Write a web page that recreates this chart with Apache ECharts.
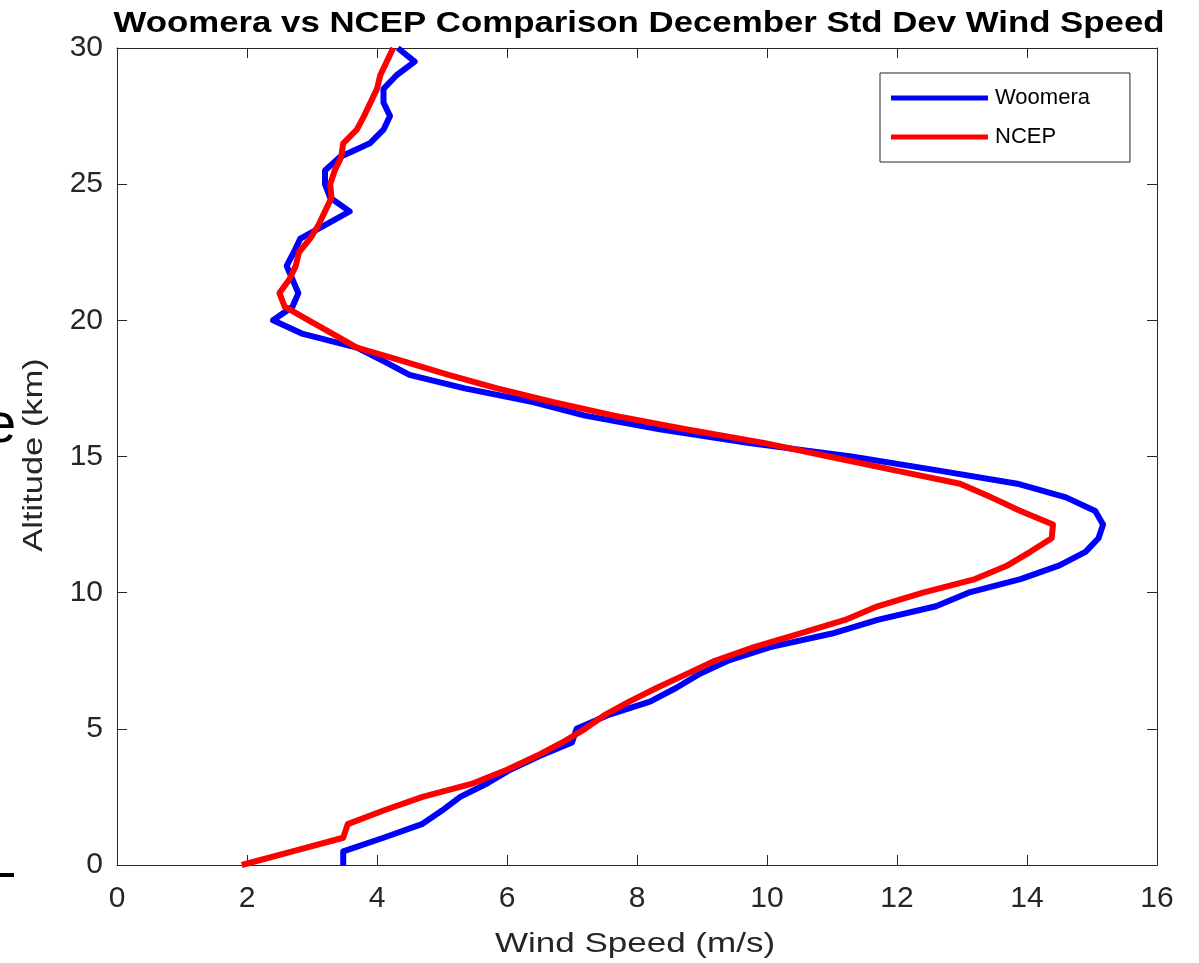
<!DOCTYPE html>
<html>
<head>
<meta charset="utf-8">
<script src="https://cdn.jsdelivr.net/npm/echarts@6/dist/echarts.min.js"></script>
<style>
  html, body { margin: 0; padding: 0; background: #fff; }
  #chart { width: 1199px; height: 963px; }
</style>
</head>
<body>
<div id="chart"></div>
<script>
// altitude levels (km), 0.5 km step
const altitudes = [
  0, 0.5, 1, 1.5, 2, 2.5, 3, 3.5, 4, 4.5,
  5, 5.5, 6, 6.5, 7, 7.5, 8, 8.5, 9, 9.5,
  10, 10.5, 11, 11.5, 12, 12.5, 13, 13.5, 14, 14.5,
  15, 15.5, 16, 16.5, 17, 17.5, 18, 18.5, 19, 19.5,
  20, 20.5, 21, 21.5, 22, 22.5, 23, 23.5, 24, 24.5,
  25, 25.5, 26, 26.5, 27, 27.5, 28, 28.5, 29, 29.5, 30
];

// std dev wind speed (m/s)
const woomera = [
  3.48, 3.48, 4.1, 4.69, 5.0, 5.28, 5.7, 6.05, 6.5, 7.0,
  7.07, 7.55, 8.2, 8.6, 8.95, 9.4, 10.05, 11.0, 11.7, 12.6,
  13.1, 13.9, 14.5, 14.9, 15.1, 15.17, 15.05, 14.6, 13.85, 12.6,
  11.3, 9.7, 8.35, 7.2, 6.4, 5.35, 4.5, 4.1, 3.69, 2.86,
  2.4, 2.7, 2.79, 2.7, 2.61, 2.72, 2.82, 3.2, 3.58, 3.28,
  3.2, 3.2, 3.43, 3.89, 4.1, 4.2, 4.1, 4.1, 4.3, 4.58, 4.32
];

const ncep = [
  1.92, 2.7, 3.48, 3.55, 4.1, 4.7, 5.48, 6.0, 6.45, 6.85,
  7.2, 7.5, 7.88, 8.3, 8.75, 9.2, 9.8, 10.5, 11.2, 11.7,
  12.4, 13.2, 13.7, 14.05, 14.38, 14.4, 13.9, 13.45, 12.97, 11.95,
  10.95, 9.95, 8.75, 7.65, 6.7, 5.85, 5.1, 4.4, 3.69, 3.32,
  2.95, 2.58, 2.5, 2.65, 2.75, 2.8, 2.97, 3.1, 3.2, 3.3,
  3.28, 3.35, 3.45, 3.48, 3.69, 3.8, 3.9, 4.0, 4.05, 4.15, 4.25
];

const xTicks = { min: 0, max: 16, interval: 2 };
const yTicks = { min: 0, max: 30, interval: 5 };

const titleText = 'Woomera vs NCEP Comparison December Std Dev Wind Speed';
const xName = 'Wind Speed (m/s)';
const yName = 'Altitude (km)';

const font = "'Liberation Sans', Arial, Helvetica, sans-serif";
const axisColor = '#262626';

const chart = echarts.init(document.getElementById('chart'));

function toPairs(xs) {
  return xs.map((v, i) => [v, altitudes[i]]);
}

// box-style frame: ticks inside on all four sides
const frameAxis = {
  axisLine: { show: true, onZero: false, lineStyle: { color: axisColor, width: 1 } },
  axisTick: { show: true, inside: true, length: 10, lineStyle: { color: axisColor } },
  splitLine: { show: false }
};

chart.setOption({
  animation: false,
  backgroundColor: '#fff',
  grid: { left: 117, right: 42, top: 48, bottom: 98 },
  legend: {
    orient: 'vertical',
    left: 880,
    top: 73,
    padding: [14, 40, 14, 11],
    itemGap: 17,
    itemWidth: 97,
    itemHeight: 5,
    icon: 'rect',
    backgroundColor: '#fff',
    borderColor: axisColor,
    borderWidth: 1,
    borderRadius: 0,
    textStyle: { fontFamily: font, fontSize: 22, color: '#000', padding: [0, 0, 0, 2] },
    data: ['Woomera', 'NCEP']
  },
  xAxis: [
    Object.assign({
      type: 'value', position: 'bottom',
      min: xTicks.min, max: xTicks.max, interval: xTicks.interval,
      axisLabel: { fontFamily: font, fontSize: 30, color: axisColor, margin: 19 }
    }, frameAxis),
    Object.assign({
      type: 'value', position: 'top',
      min: xTicks.min, max: xTicks.max, interval: xTicks.interval,
      axisLabel: { show: false }
    }, frameAxis)
  ],
  yAxis: [
    Object.assign({
      type: 'value', position: 'left',
      min: yTicks.min, max: yTicks.max, interval: yTicks.interval,
      axisLabel: { fontFamily: font, fontSize: 30, color: axisColor, margin: 14 }
    }, frameAxis),
    Object.assign({
      type: 'value', position: 'right',
      min: yTicks.min, max: yTicks.max, interval: yTicks.interval,
      axisLabel: { show: false }
    }, frameAxis)
  ],
  graphic: [
    // title and axis names, slightly widened like the original rendering
    { type: 'text', x: 639, y: 24, scaleX: 1.2, z: 10,
      style: { text: titleText, font: 'bold 29px ' + font, fill: '#000', align: 'center', verticalAlign: 'middle' } },
    { type: 'text', x: 635, y: 944, scaleX: 1.25, z: 10,
      style: { text: xName, font: '28px ' + font, fill: axisColor, align: 'center', verticalAlign: 'middle' } },
    { type: 'text', x: 34, y: 455, rotation: Math.PI / 2, scaleX: 1.23, z: 10,
      style: { text: yName, font: '28px ' + font, fill: axisColor, align: 'center', verticalAlign: 'middle' } },
    // stray fragments at the left edge of the original
    { type: 'text', x: -15, y: 427,
      style: { text: 'e', font: '56px ' + font, fill: '#000', align: 'left', verticalAlign: 'middle' } },
    { type: 'rect', shape: { x: 0, y: 873, width: 14, height: 4 }, style: { fill: '#000' } }
  ],
  series: [
    {
      name: 'Woomera', type: 'line', data: toPairs(woomera),
      showSymbol: false, symbol: 'none',
      lineStyle: { color: '#0000ff', width: 6, join: 'round' },
      itemStyle: { color: '#0000ff' }
    },
    {
      name: 'NCEP', type: 'line', data: toPairs(ncep),
      showSymbol: false, symbol: 'none',
      lineStyle: { color: '#ff0000', width: 6, join: 'round' },
      itemStyle: { color: '#ff0000' }
    }
  ]
});
</script>
</body>
</html>
